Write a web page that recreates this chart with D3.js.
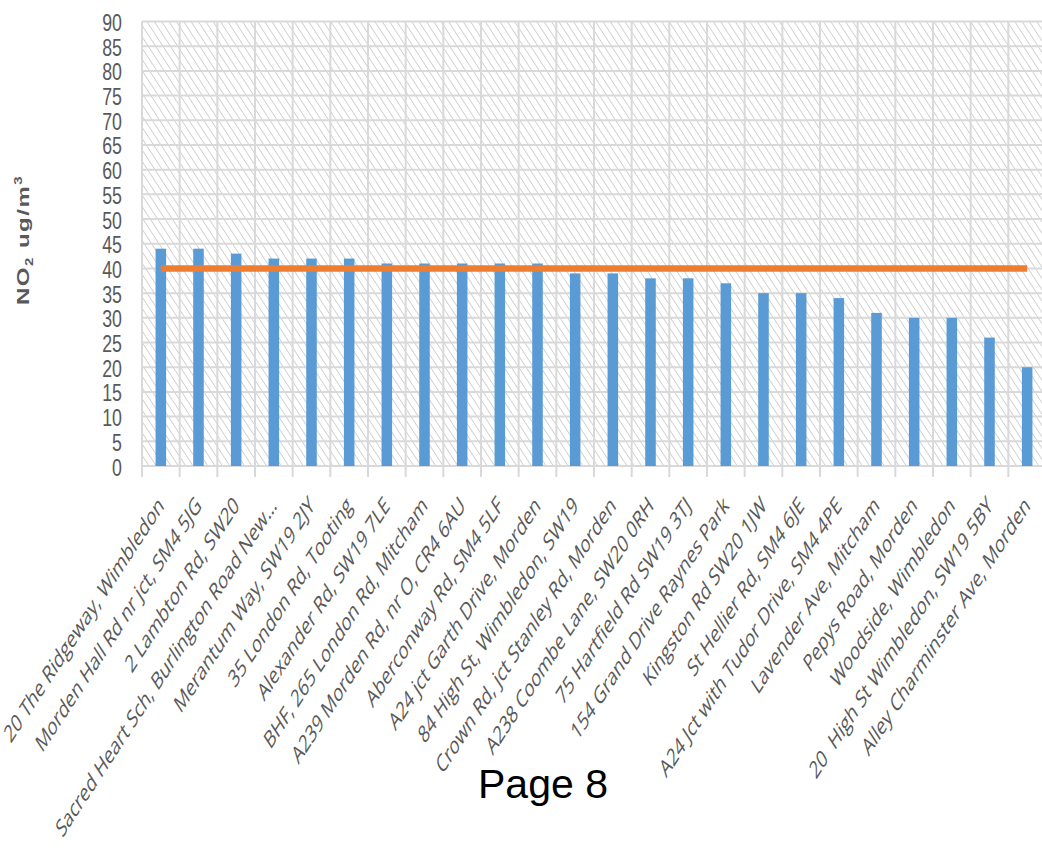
<!DOCTYPE html>
<html>
<head>
<meta charset="utf-8">
<script src="https://cdn.jsdelivr.net/npm/d3@7"></script>
<style>
  body {margin:0; background:#fff;}
  svg {display:block;}
</style>
</head>
<body>
<div id="chart"></div>
<script>
// NO2 diffusion tube results by site
var sites=[
    '20 The Ridgeway, Wimbledon',
    'Morden Hall Rd nr jct, SM4 5JG',
    '2 Lambton Rd, SW20',
    'Sacred Heart Sch, Burlington Road New\u2026',
    'Merantum Way, SW19 2JY',
    '35 London Rd, Tooting',
    'Alexander Rd, SW19 7LE',
    'BHF, 265 London Rd, Mitcham',
    'A239 Morden Rd, nr O, CR4 6AU',
    'Aberconway Rd, SM4 5LF',
    'A24 jct Garth Drive, Morden',
    '84 High St, Wimbledon, SW19',
    'Crown Rd, jct Stanley Rd, Morden',
    'A238 Coombe Lane, SW20 0RH',
    '75 Hartfield Rd SW19 3TJ',
    '154 Grand Drive Raynes Park',
    'Kingston Rd SW20 1JW',
    'St Hellier Rd, SM4 6JE',
    'A24 Jct with Tudor Drive, SM4 4PE',
    'Lavender Ave, Mitcham',
    'Pepys Road, Morden',
    'Woodside, Wimbledon',
    '20  High St Wimbledon, SW19 5BY',
    'Alley Charminster Ave, Morden'
];
var no2Values=[44,44,43,42,42,42,41,41,41,41,41,39,39,38,38,37,35,35,34,31,30,30,26,20];
var objectiveValue=40; // annual mean objective
var yTicks=[0,5,10,15,20,25,30,35,40,45,50,55,60,65,70,75,80,85,90];
var yDomain=[0,90];

var W=1042, H=854;
var plot={left:142,right:1046,top:21.5,bottom:466};
var squash=0.65; // the picture is squeezed sideways

var svg=d3.select('#chart').append('svg')
    .attr('width',W).attr('height',H);

var x=d3.scaleBand().domain(sites)
    .range([plot.left,plot.right])
    .paddingInner(0.72).paddingOuter(0.36);
var y=d3.scaleLinear().domain(yDomain).range([plot.bottom,plot.top]);

// hatch fill of plot area
var defs=svg.append('defs');
var pat=defs.append('pattern')
    .attr('id','hatch')
    .attr('patternUnits','userSpaceOnUse')
    .attr('width',8).attr('height',8)
    .attr('patternTransform','scale('+squash+',1) rotate(-45)');
pat.append('line')
    .attr('x1',0).attr('y1',0).attr('x2',0).attr('y2',8)
    .attr('stroke','#cfcfcf').attr('stroke-width',2.4);

svg.append('rect')
    .attr('x',plot.left).attr('y',plot.top)
    .attr('width',plot.right-plot.left).attr('height',plot.bottom-plot.top)
    .attr('fill','url(#hatch)');

var gg=svg.append('g');

// horizontal grid
gg.selectAll('line.hgrid').data(yTicks).enter().append('line')
    .attr('class','hgrid')
    .attr('x1',plot.left).attr('x2',plot.right)
    .attr('y1',function(d) {return y(d);}).attr('y2',function(d) {return y(d);})
    .attr('stroke','#d9d9d9').attr('stroke-width',2);

// vertical grid at category boundaries, ticks hang below the axis
var half_gap=x.step()*x.paddingInner()/2;
var bounds=sites.map(function(s) {return x(s)-half_gap;});
bounds.push(x(sites[sites.length-1])+x.bandwidth()+half_gap);
gg.selectAll('line.vgrid').data(bounds).enter().append('line')
    .attr('class','vgrid')
    .attr('x1',function(d) {return d;}).attr('x2',function(d) {return d;})
    .attr('y1',plot.top).attr('y2',plot.bottom+11)
    .attr('stroke','#d9d9d9').attr('stroke-width',2);

// y tick labels
var yl=svg.append('g');
yTicks.forEach(function(t) {
    yl.append('g')
        .attr('transform','translate(122,'+(y(t)+1)+') scale(0.74,1)')
        .append('text')
        .attr('text-anchor','end')
        .attr('dominant-baseline','central')
        .style('font-family','"Liberation Sans", Arial, sans-serif')
        .style('font-size','24px')
        .style('fill','#595959')
        .text(t);
});

// bars
svg.append('g').selectAll('rect').data(no2Values).enter().append('rect')
    .attr('x',function(d,i) {return x(sites[i]);})
    .attr('y',function(d) {return y(d);})
    .attr('width',x.bandwidth())
    .attr('height',function(d) {return y(0)-y(d);})
    .attr('fill','#5b9bd5');

// objective line
var line=d3.line()
    .x(function(d) {return x(d)+x.bandwidth()/2;})
    .y(function() {return y(objectiveValue);});
svg.append('path')
    .attr('d',line([sites[0],sites[sites.length-1]]))
    .attr('fill','none')
    .attr('stroke','#ed7d31')
    .attr('stroke-width',6.5);

// category labels
var xl=svg.append('g');
sites.forEach(function(s) {
    var cx=x(s)+x.bandwidth()/2;
    xl.append('g')
        .attr('transform','translate('+(cx+4)+',507) scale('+squash+',1) rotate(-45)')
        .append('text')
        .attr('text-anchor','end')
        .style('white-space','pre')
        .style('font-family','"Open Sans", sans-serif')
        .style('font-size','24.5px')
        .style('fill','#595959')
        .text(s);
});

// y axis title
var title=svg.append('g')
    .attr('transform','translate(29,240) scale(0.72,1) rotate(-90)')
    .append('text')
    .attr('text-anchor','middle')
    .style('font-family','"Liberation Sans", Arial, sans-serif')
    .style('font-weight','bold')
    .style('font-size','24px')
    .style('letter-spacing','1.5px')
    .style('fill','#595959');
title.append('tspan').text('NO');
title.append('tspan').attr('dy',5).style('font-size','15px').text('2');
title.append('tspan').attr('dy',-5).text(' ug/m');
title.append('tspan').attr('dy',-10).style('font-size','15px').text('3');

// page footer
svg.append('text')
    .attr('x',478).attr('y',798)
    .style('font-family','"Liberation Sans", Arial, sans-serif')
    .style('font-size','41px')
    .style('fill','#000')
    .text('Page 8');
</script>
</body>
</html>
